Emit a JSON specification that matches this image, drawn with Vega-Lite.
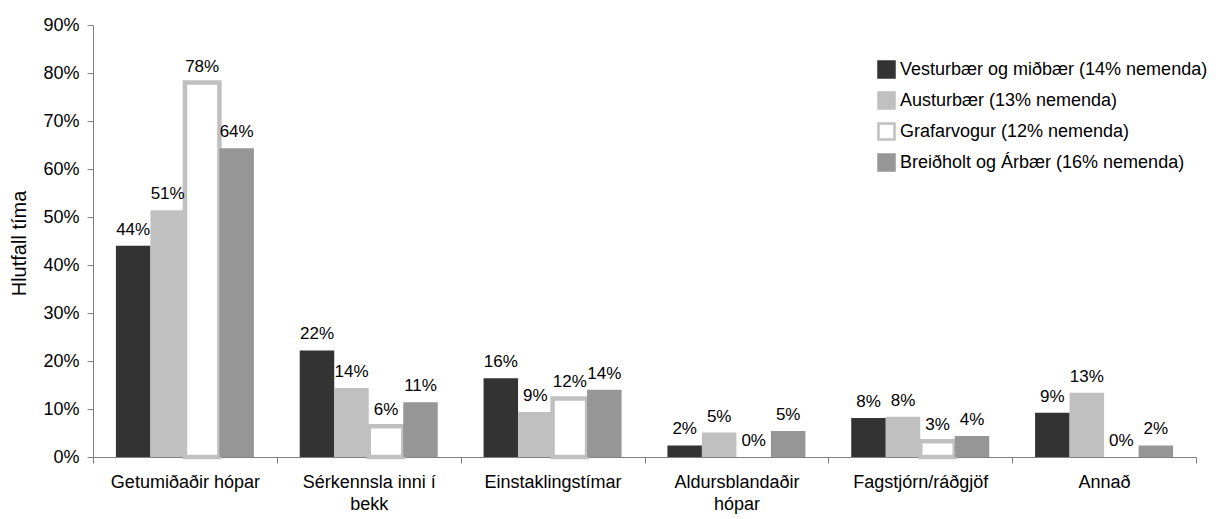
{
  "$schema": "https://vega.github.io/schema/vega-lite/v6.json",
  "width": 1103,
  "height": 432,
  "autosize": {"type": "none"},
  "padding": {"left": 93, "top": 25, "right": 23, "bottom": 62},
  "background": "white",
  "config": {
    "font": "Liberation Sans",
    "view": {"stroke": null},
    "axis": {"labelFont": "Liberation Sans", "titleFont": "Liberation Sans", "labelColor": "black", "titleColor": "black"}
  },
  "data": {
    "values": [
      {"kategori": "Getumiðaðir hópar", "svaedi": "Vesturbær og miðbær (14% nemenda)", "hlutfall": 0.44},
      {"kategori": "Getumiðaðir hópar", "svaedi": "Austurbær (13% nemenda)", "hlutfall": 0.514},
      {"kategori": "Getumiðaðir hópar", "svaedi": "Grafarvogur (12% nemenda)", "hlutfall": 0.78},
      {"kategori": "Getumiðaðir hópar", "svaedi": "Breiðholt og Árbær (16% nemenda)", "hlutfall": 0.643},
      {"kategori": "Sérkennsla inni í bekk", "svaedi": "Vesturbær og miðbær (14% nemenda)", "hlutfall": 0.222},
      {"kategori": "Sérkennsla inni í bekk", "svaedi": "Austurbær (13% nemenda)", "hlutfall": 0.144},
      {"kategori": "Sérkennsla inni í bekk", "svaedi": "Grafarvogur (12% nemenda)", "hlutfall": 0.064},
      {"kategori": "Sérkennsla inni í bekk", "svaedi": "Breiðholt og Árbær (16% nemenda)", "hlutfall": 0.114},
      {"kategori": "Einstaklingstímar", "svaedi": "Vesturbær og miðbær (14% nemenda)", "hlutfall": 0.164},
      {"kategori": "Einstaklingstímar", "svaedi": "Austurbær (13% nemenda)", "hlutfall": 0.094},
      {"kategori": "Einstaklingstímar", "svaedi": "Grafarvogur (12% nemenda)", "hlutfall": 0.122},
      {"kategori": "Einstaklingstímar", "svaedi": "Breiðholt og Árbær (16% nemenda)", "hlutfall": 0.14},
      {"kategori": "Aldursblandaðir hópar", "svaedi": "Vesturbær og miðbær (14% nemenda)", "hlutfall": 0.024},
      {"kategori": "Aldursblandaðir hópar", "svaedi": "Austurbær (13% nemenda)", "hlutfall": 0.051},
      {"kategori": "Aldursblandaðir hópar", "svaedi": "Grafarvogur (12% nemenda)", "hlutfall": 0},
      {"kategori": "Aldursblandaðir hópar", "svaedi": "Breiðholt og Árbær (16% nemenda)", "hlutfall": 0.054},
      {"kategori": "Fagstjórn/ráðgjöf", "svaedi": "Vesturbær og miðbær (14% nemenda)", "hlutfall": 0.081},
      {"kategori": "Fagstjórn/ráðgjöf", "svaedi": "Austurbær (13% nemenda)", "hlutfall": 0.084},
      {"kategori": "Fagstjórn/ráðgjöf", "svaedi": "Grafarvogur (12% nemenda)", "hlutfall": 0.033},
      {"kategori": "Fagstjórn/ráðgjöf", "svaedi": "Breiðholt og Árbær (16% nemenda)", "hlutfall": 0.044},
      {"kategori": "Annað", "svaedi": "Vesturbær og miðbær (14% nemenda)", "hlutfall": 0.092},
      {"kategori": "Annað", "svaedi": "Austurbær (13% nemenda)", "hlutfall": 0.134},
      {"kategori": "Annað", "svaedi": "Grafarvogur (12% nemenda)", "hlutfall": 0},
      {"kategori": "Annað", "svaedi": "Breiðholt og Árbær (16% nemenda)", "hlutfall": 0.024}
    ]
  },
  "encoding": {
    "x": {
      "field": "kategori", "type": "nominal", "sort": null,
      "scale": {"paddingInner": 0, "paddingOuter": 0},
      "axis": {
        "title": null, "labelAngle": 0, "labelFontSize": 18, "labelPadding": 10,
        "tickBand": "extent", "tickSize": 6, "tickColor": "#808080", "domainColor": "#808080",
        "labelLineHeight": 22, "labelBaseline": "top",
        "labelExpr": "datum.value == 'Sérkennsla inni í bekk' ? ['Sérkennsla inni í', 'bekk'] : datum.value == 'Aldursblandaðir hópar' ? ['Aldursblandaðir', 'hópar'] : datum.value"
      }
    },
    "xOffset": {
      "field": "svaedi", "type": "nominal",
      "scale": {"domain": ["Vesturbær og miðbær (14% nemenda)", "Austurbær (13% nemenda)", "Grafarvogur (12% nemenda)", "Breiðholt og Árbær (16% nemenda)"], "paddingInner": 0, "paddingOuter": 0.664}
    },
    "y": {
      "field": "hlutfall", "type": "quantitative",
      "scale": {"domain": [0, 0.9], "nice": false},
      "axis": {
        "title": "Hlutfall tíma", "titleFontSize": 20, "titleFontWeight": "normal",
        "titleX": -74, "titleY": 218, "titleAngle": -90, "titleAlign": "center", "titleBaseline": "middle",
        "values": [0, 0.1, 0.2, 0.3, 0.4, 0.5, 0.6, 0.7, 0.8, 0.9],
        "format": ".0%", "labelFontSize": 18, "labelPadding": 8, "tickSize": 6,
        "grid": false, "tickColor": "#808080", "domainColor": "#808080"
      }
    }
  },
  "layer": [
    {
      "transform": [{"filter": "datum.hlutfall > 0"}],
      "mark": {"type": "bar"},
      "encoding": {
        "fill": {
          "field": "svaedi", "type": "nominal",
          "scale": {"domain": ["Vesturbær og miðbær (14% nemenda)", "Austurbær (13% nemenda)", "Grafarvogur (12% nemenda)", "Breiðholt og Árbær (16% nemenda)"], "range": ["#333333", "#c0c0c0", "#ffffff", "#969696"]},
          "legend": {
            "title": null, "orient": "none", "legendX": 784, "legendY": 35,
            "symbolType": "square", "symbolSize": 256, "symbolStrokeWidth": 2.5,
            "labelFontSize": 18, "labelLimit": 400, "rowPadding": 4, "labelOffset": 4, "padding": 0
          }
        },
        "stroke": {
          "field": "svaedi", "type": "nominal",
          "scale": {"domain": ["Vesturbær og miðbær (14% nemenda)", "Austurbær (13% nemenda)", "Grafarvogur (12% nemenda)", "Breiðholt og Árbær (16% nemenda)"], "range": ["#333333", "#c0c0c0", "#c0c0c0", "#969696"]}
        },
        "strokeWidth": {
          "condition": {"test": "datum.svaedi == 'Grafarvogur (12% nemenda)'", "value": 4.5},
          "value": 0
        }
      }
    },
    {
      "mark": {"type": "text", "baseline": "alphabetic", "dy": -11, "fontSize": 17, "color": "black"},
      "encoding": {
        "text": {"field": "hlutfall", "type": "quantitative", "format": ".0%"}
      }
    }
  ]
}
